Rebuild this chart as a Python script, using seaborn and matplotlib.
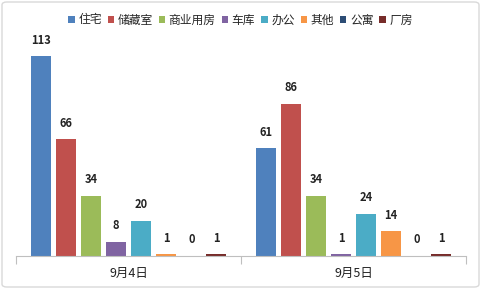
import matplotlib
matplotlib.use("Agg")
import matplotlib.pyplot as plt
from matplotlib.patches import FancyBboxPatch
import seaborn as sns
import pandas as pd

categories = ["9月4日", "9月5日"]
series = ["住宅", "储藏室", "商业用房", "车库", "办公", "其他", "公寓", "厂房"]
values_0904 = [113, 66, 34, 8, 20, 1, 0, 1]
values_0905 = [61, 86, 34, 1, 24, 14, 0, 1]
colors = ["#4F81BD", "#C0504D", "#9BBB59", "#8064A2", "#4BACC6", "#F79646", "#2C4D75", "#772C2A"]

rows = []
for s, a, b in zip(series, values_0904, values_0905):
    rows.append({"date": categories[0], "type": s, "count": a})
    rows.append({"date": categories[1], "type": s, "count": b})
df = pd.DataFrame(rows)

sns.set_theme(style="white")
plt.rcParams['font.family'] = ['Noto Sans CJK SC', 'DejaVu Sans']

fig = plt.figure(figsize=(4.81, 2.89), dpi=100)
ax = fig.add_axes([16/481, 33/289, 450/481, 212/289])

sns.barplot(data=df, x="date", y="count", hue="type", order=categories,
            hue_order=series, palette=colors, width=0.893, gap=0.2,
            saturation=1, ax=ax, legend=False, errorbar=None, linewidth=0)

for cont in ax.containers:
    ax.bar_label(cont, fmt="%d", padding=7, fontsize=8, fontweight="bold", color="#222222")

ax.set_ylim(0, 120)
ax.set_xlim(-0.5, 1.5)
ax.set_xlabel("")
ax.set_ylabel("")
ax.set_yticks([])
for side in ["top", "right", "left"]:
    ax.spines[side].set_visible(False)
ax.spines["bottom"].set_color("#BFBFBF")
ax.spines["bottom"].set_linewidth(0.8)
ax.set_xticks([-0.5, 0.5, 1.5], minor=False)
ax.set_xticklabels([])
ax.tick_params(axis="x", which="major", length=6, color="#BFBFBF", width=0.8, bottom=True)
ax.set_xticks([0, 1], minor=True)
ax.set_xticklabels(categories, minor=True, fontsize=9, color="#222222")
ax.tick_params(axis="x", which="minor", length=0, pad=8)

handles = [plt.Rectangle((0, 0), 1, 1, facecolor=c, edgecolor="none") for c in colors]
fig.legend(handles, series, loc="center", bbox_to_anchor=(0.5, 1 - 20/289), ncol=8,
           frameon=False, fontsize=8.5, handlelength=0.55, handleheight=0.55,
           handletextpad=0.3, columnspacing=0.5, borderaxespad=0)

border = FancyBboxPatch((2/481, 2/289), 477/481, 285/289, boxstyle="round,pad=0,rounding_size=0.01",
                        transform=fig.transFigure, facecolor="none", edgecolor="#D9D9D9", linewidth=1)
fig.patches.append(border)

fig.savefig("out.png", dpi=100)
